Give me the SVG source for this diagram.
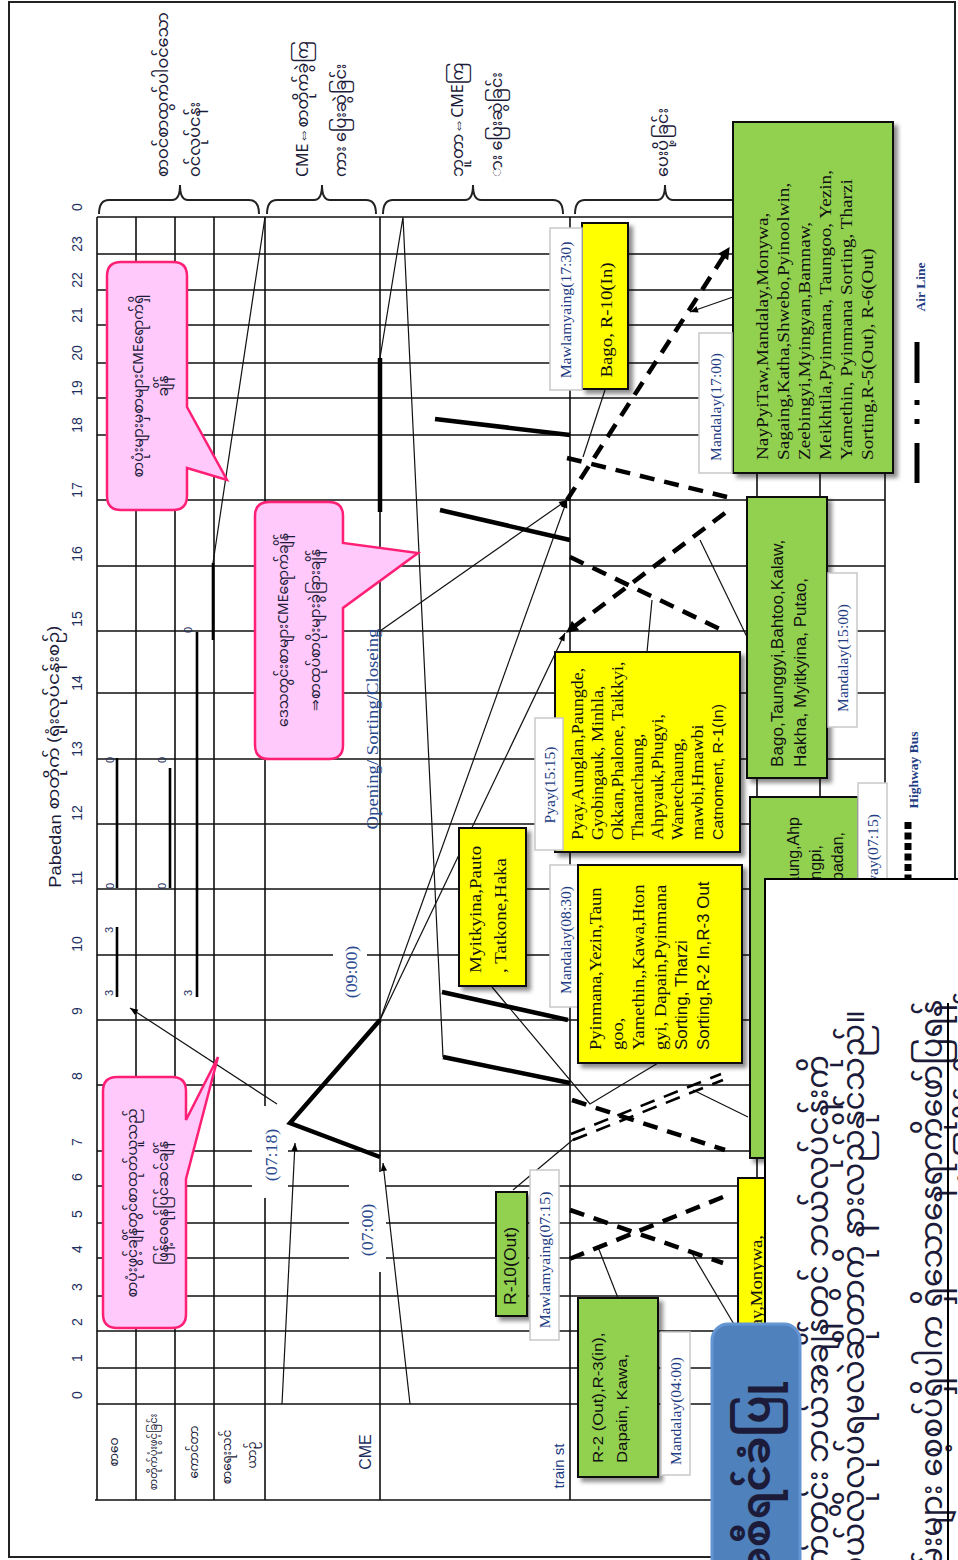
<svg xmlns="http://www.w3.org/2000/svg" width="958" height="1560" viewBox="0 0 958 1560">
<defs>
<style>
.grid{stroke:#111;stroke-width:1.6;fill:none}
.thin{stroke:#111;stroke-width:1.2;fill:none}
.thick{stroke:#000;stroke-width:4.5;fill:none}
.dash{stroke:#000;stroke-width:4.5;fill:none;stroke-dasharray:15 10}
.bar{stroke:#000;stroke-width:2.6;fill:none}
.yb{fill:#ffff00;stroke:#111;stroke-width:2}
.gb{fill:#92d050;stroke:#111;stroke-width:2}
.wl{fill:#fff;stroke:#c9c9c9;stroke-width:1.5}
.call{fill:#ffc9fb;stroke:#ff1f75;stroke-width:2.5}
.hr{font-family:"Liberation Sans",Arial,sans-serif;font-size:14px;fill:#1e2f5e}
.ser{font-family:"Liberation Serif","Times New Roman",serif}
.san{font-family:"Liberation Sans",Arial,sans-serif}
.mm{font-family:"Noto Sans Myanmar","Noto Serif Myanmar","Padauk","Myanmar Text","Noto Sans",sans-serif;fill:#1c1c3a}
.lbl{font-family:"Liberation Serif","Times New Roman",serif;font-size:14px;fill:#223b82}
.blue{fill:#2a4a8e}
.bt{font-size:17px;fill:#111}
.dg{font-family:"Liberation Sans",Arial,sans-serif;font-size:11px;fill:#1e2f5e}
</style>
<filter id="sh" x="-10%" y="-10%" width="130%" height="130%"><feDropShadow dx="4" dy="4" stdDeviation="2" flood-color="#000" flood-opacity="0.45"/></filter>
<marker id="ar" viewBox="0 0 10 10" refX="10" refY="5" markerWidth="10" markerHeight="8" markerUnits="userSpaceOnUse" orient="auto"><path d="M0,1 L10,5 L0,9 z" fill="#000"/></marker>
<marker id="arB" viewBox="0 0 10 10" refX="9" refY="5" markerWidth="14" markerHeight="12" markerUnits="userSpaceOnUse" orient="auto"><path d="M0,0 L10,5 L0,10 z" fill="#000"/></marker>
</defs>
<rect width="958" height="1560" fill="#fff"/>
<rect x="9" y="2" width="946" height="1555" fill="none" stroke="#222" stroke-width="2"/>

<g id="grid">
<path class="grid" d="M97,217H885 M97,254H885 M97,290H885 M97,325H885 M97,363H885 M97,398H885 M97,435H885 M97,500H885 M97,566H885 M97,631H885 M97,693H885 M97,759H885 M97,824H885 M97,889H885 M97,955H885 M97,1020H885 M97,1085H885 M97,1151H885 M97,1186H885 M97,1223H885 M97,1258H885 M97,1296H885 M97,1331H885 M97,1368H885 M97,1404H885 M95,1500H885"/>
<path class="grid" d="M97,217V1500 M136,217V1500 M175,217V1500 M214,217V1500 M265,217V1500 M380,217V1500 M570,217V1500 M757,217V1404 M820,217V1404 M885,217V1404"/>
<rect x="252" y="1106" width="36" height="92" fill="#fff"/>
<rect x="349" y="1172" width="37" height="100" fill="#fff"/>
<rect x="333" y="932" width="34" height="78" fill="#fff"/>
</g>

<g id="axis">
<text class="hr" text-anchor="middle" dominant-baseline="central" transform="translate(77,207) rotate(-90)">0</text>
<text class="hr" text-anchor="middle" dominant-baseline="central" transform="translate(77,244) rotate(-90)">23</text>
<text class="hr" text-anchor="middle" dominant-baseline="central" transform="translate(77,280) rotate(-90)">22</text>
<text class="hr" text-anchor="middle" dominant-baseline="central" transform="translate(77,315) rotate(-90)">21</text>
<text class="hr" text-anchor="middle" dominant-baseline="central" transform="translate(77,353) rotate(-90)">20</text>
<text class="hr" text-anchor="middle" dominant-baseline="central" transform="translate(77,388) rotate(-90)">19</text>
<text class="hr" text-anchor="middle" dominant-baseline="central" transform="translate(77,425) rotate(-90)">18</text>
<text class="hr" text-anchor="middle" dominant-baseline="central" transform="translate(77,490) rotate(-90)">17</text>
<text class="hr" text-anchor="middle" dominant-baseline="central" transform="translate(77,554) rotate(-90)">16</text>
<text class="hr" text-anchor="middle" dominant-baseline="central" transform="translate(77,619) rotate(-90)">15</text>
<text class="hr" text-anchor="middle" dominant-baseline="central" transform="translate(77,683) rotate(-90)">14</text>
<text class="hr" text-anchor="middle" dominant-baseline="central" transform="translate(77,749) rotate(-90)">13</text>
<text class="hr" text-anchor="middle" dominant-baseline="central" transform="translate(77,813) rotate(-90)">12</text>
<text class="hr" text-anchor="middle" dominant-baseline="central" transform="translate(77,878) rotate(-90)">11</text>
<text class="hr" text-anchor="middle" dominant-baseline="central" transform="translate(77,944) rotate(-90)">10</text>
<text class="hr" text-anchor="middle" dominant-baseline="central" transform="translate(77,1011) rotate(-90)">9</text>
<text class="hr" text-anchor="middle" dominant-baseline="central" transform="translate(77,1076) rotate(-90)">8</text>
<text class="hr" text-anchor="middle" dominant-baseline="central" transform="translate(77,1142) rotate(-90)">7</text>
<text class="hr" text-anchor="middle" dominant-baseline="central" transform="translate(77,1177) rotate(-90)">6</text>
<text class="hr" text-anchor="middle" dominant-baseline="central" transform="translate(77,1214) rotate(-90)">5</text>
<text class="hr" text-anchor="middle" dominant-baseline="central" transform="translate(77,1249) rotate(-90)">4</text>
<text class="hr" text-anchor="middle" dominant-baseline="central" transform="translate(77,1287) rotate(-90)">3</text>
<text class="hr" text-anchor="middle" dominant-baseline="central" transform="translate(77,1322) rotate(-90)">2</text>
<text class="hr" text-anchor="middle" dominant-baseline="central" transform="translate(77,1358) rotate(-90)">1</text>
<text class="hr" text-anchor="middle" dominant-baseline="central" transform="translate(77,1395) rotate(-90)">0</text>
<text class="mm" font-size="16" fill="#1e2f5e" text-anchor="middle" dominant-baseline="central" transform="translate(55,757) rotate(-90) scale(1.15,1)"><tspan class="san">Pabedan</tspan> စာတိုက် (ရုံးလုပ်ငန်းစဉ်)</text>
</g>

<g id="braces" fill="none" stroke="#222" stroke-width="2">
<path d="M99,214 Q99,200 109,200 H172 Q180,200 180,185 Q180,200 188,200 H249 Q259,200 259,214"/>
<path d="M267,214 Q267,200 277,200 H314 Q322,200 322,185 Q322,200 330,200 H366 Q376,200 376,214"/>
<path d="M383,214 Q383,200 393,200 H465 Q473,200 473,185 Q473,200 481,200 H553 Q563,200 563,214"/>
<path d="M575,214 Q575,200 585,200 H657 Q665,200 665,185 Q665,200 673,200 H875 Q885,200 885,214"/>
</g>

<g id="group-labels" class="mm" font-size="16">
<text transform="translate(0,177) rotate(-90)"><tspan x="0" y="168">စာဝင်စာထွက်ပါဝင်သော</tspan><tspan x="0" y="200">ဝင်လုပ်ငန်း</tspan></text>
<text transform="translate(0,177) rotate(-90)"><tspan x="0" y="308">CME⇔စာတိုက်ခွဲကြ</tspan><tspan x="0" y="346">ကား ပြေးဆွဲခြင်း</tspan></text>
<text transform="translate(0,177) rotate(-90)"><tspan x="0" y="463">ဘူတာ⇔CMEကြ</tspan><tspan x="0" y="502">ား ပြေးဆွဲခြင်း</tspan></text>
<text transform="translate(0,177) rotate(-90)"><tspan x="0" y="668">ပေးပို့ခြင်း</tspan></text>
</g>

<g id="column-labels" class="mm">
<text font-size="12" text-anchor="middle" dominant-baseline="central" transform="translate(115,1452) rotate(-90)">စာဝေ</text>
<text font-size="10" text-anchor="middle" dominant-baseline="central" transform="translate(155,1452) rotate(-90)">စာတိုက်ပုံးဖွင့်ခြင်း</text>
<text font-size="12" text-anchor="middle" dominant-baseline="central" transform="translate(195,1452) rotate(-90)">ကောင်တာ</text>
<text font-size="12" text-anchor="middle" dominant-baseline="central" transform="translate(228,1457) rotate(-90)">စာရေးသင်</text>
<text font-size="12" text-anchor="middle" dominant-baseline="central" transform="translate(253,1455) rotate(-90)">ယာဉ်</text>
<text class="san" font-size="16" fill="#1e2f5e" text-anchor="middle" dominant-baseline="central" transform="translate(365,1452) rotate(-90)">CME</text>
<text class="san" font-size="15" fill="#223b82" text-anchor="middle" dominant-baseline="central" transform="translate(558,1466) rotate(-90)">train  st</text>
</g>

<g id="time-labels">
<text class="ser blue" font-size="17" text-anchor="middle" dominant-baseline="central" transform="translate(271,1155) rotate(-90) scale(1.05,1)">(07:18)</text>
<text class="ser blue" font-size="17" text-anchor="middle" dominant-baseline="central" transform="translate(367,1230) rotate(-90) scale(1.05,1)">(07:00)</text>
<text class="ser blue" font-size="17" text-anchor="middle" dominant-baseline="central" transform="translate(351,972) rotate(-90) scale(1.05,1)">(09:00)</text>
<text class="ser blue" font-size="17" text-anchor="middle" dominant-baseline="central" transform="translate(372,729) rotate(-90) scale(1.1,1)">Opening/ Sorting/Closeing</text>
</g>

<g id="column-bars">
<path class="bar" d="M117,927V997 M117,758V888 M170,768V888 M197,632V997 M213,563V640"/>
<text class="dg" text-anchor="middle" dominant-baseline="central" transform="translate(109,930) rotate(-90)">3</text>
<text class="dg" text-anchor="middle" dominant-baseline="central" transform="translate(109,993) rotate(-90)">3</text>
<text class="dg" text-anchor="middle" dominant-baseline="central" transform="translate(110,760) rotate(-90)">0</text>
<text class="dg" text-anchor="middle" dominant-baseline="central" transform="translate(110,886) rotate(-90)">0</text>
<text class="dg" text-anchor="middle" dominant-baseline="central" transform="translate(162,760) rotate(-90)">0</text>
<text class="dg" text-anchor="middle" dominant-baseline="central" transform="translate(162,886) rotate(-90)">0</text>
<text class="dg" text-anchor="middle" dominant-baseline="central" transform="translate(188,630) rotate(-90)">0</text>
<text class="dg" text-anchor="middle" dominant-baseline="central" transform="translate(188,993) rotate(-90)">3</text>
</g>

<g id="connectors">
<path class="thin" d="M265,217 L213,563"/>
<path class="thin" d="M277,1104 L130,1008" marker-end="url(#ar)"/>
<path class="thin" d="M282,1404 L295,1143" marker-end="url(#ar)"/>
<path class="thin" d="M410,1404 L383,1163" marker-end="url(#ar)"/>
<path class="thin" d="M380,358 L403,217 L443,1057"/>
<path class="thin" d="M380,631 L567,500" marker-end="url(#ar)"/>
<path class="thin" d="M380,1020 L567,500" marker-end="url(#ar)"/>
<path class="thin" d="M380,1020 L565,633" marker-end="url(#ar)"/>
<path class="thin" d="M605,390 L583,457"/>
<path class="thin" d="M733,297 L690,312" marker-end="url(#ar)"/>
<path class="thin" d="M700,540 L747,637"/>
<path class="thin" d="M652,600 L647,652"/>
<path class="thin" d="M492,987 L590,1104 L658,1063"/>
<path class="thin" d="M693,1090 L748,1117"/>
<path class="thin" d="M513,1190 L575,1138"/>
<path class="thin" d="M598,1247 L618,1298"/>
<path class="thin" d="M690,1250 L735,1326"/>
<path class="thick" d="M380,358 V512"/>
<path class="thick" d="M380,1020 L290,1123 L380,1157"/>
<path class="thick" d="M435,419 L570,435"/>
<path class="thick" d="M440,510 L570,540"/>
<path class="thick" d="M442,992 L568,1020"/>
<path class="thick" d="M443,1057 L570,1083"/>
<path class="dash" d="M567,500 L729,248" marker-end="url(#arB)"/>
<path class="dash" d="M567,458 L727,497"/>
<path class="dash" d="M725,513 L567,632" marker-end="url(#arB)"/>
<path class="dash" d="M570,557 L722,630"/>
<path class="dash" d="M572,1100 L725,1150"/>
<path class="dash" d="M570,1210 L723,1263"/>
<path class="dash" d="M723,1197 L567,1260"/>
<path d="M571,1134 L721,1074 M573,1140 L723,1080" stroke="#000" stroke-width="2.6" fill="none" stroke-dasharray="15 10"/>
</g>

<g id="callout-1">
<path class="call" d="M121,262 H173 Q187,262 187,276 V407 L227,480 L187,468 V496 Q187,510 173,510 H121 Q107,510 107,496 V276 Q107,262 121,262 Z"/>
<text class="mm" font-size="14" text-anchor="middle" transform="translate(0,386) rotate(-90)"><tspan x="0" y="143">စာပုံးများမှစာများCMEရောက်ရှိ</tspan><tspan x="0" y="168">ချိန်</tspan></text>
</g>
<g id="callout-2">
<path class="call" d="M269,502 H329 Q343,502 343,516 V543 L418,553 L343,608 V745 Q343,759 329,759 H269 Q255,759 255,745 V516 Q255,502 269,502 Z"/>
<text class="mm" font-size="14" text-anchor="middle" transform="translate(0,630) rotate(-90)"><tspan x="0" y="288">ဒေသတွင်းစာများCMEရောက်ချိန်</tspan><tspan x="0" y="320">⇒စာထုပ်စာပိုးများခွဲခြားချိန်</tspan></text>
</g>
<g id="callout-3">
<path class="call" d="M117,1077 H172 Q186,1077 186,1091 V1120 L218,1057 L186,1179 V1314 Q186,1328 172,1328 H117 Q103,1328 103,1314 V1091 Q103,1077 117,1077 Z"/>
<text class="mm" font-size="14" text-anchor="middle" transform="translate(0,1203) rotate(-90)"><tspan x="0" y="137">စာပုံးဖွင့်ချိန်တွင်စာထုတ်ယူသည်</tspan><tspan x="0" y="168">ဖြန့်ဝေရန်ပြင်ဆင်ချိန်</tspan></text>
</g>

<g id="node-bago-r10in">
<rect class="yb" x="582" y="223" width="46" height="166" filter="url(#sh)"/>
<text class="ser bt" text-anchor="middle" dominant-baseline="central" transform="translate(606,320) rotate(-90) scale(1.11,1)">Bago, R-10(In)</text>
</g>
<g id="label-mawlamyaing-1730">
<rect class="wl" x="550" y="228" width="32" height="162"/>
<text class="lbl" text-anchor="middle" dominant-baseline="central" transform="translate(566,310) rotate(-90) scale(1.12,1)">Mawlamyaing(17:30)</text>
</g>
<g id="node-naypyitaw">
<rect class="gb" x="733" y="122" width="160" height="351" filter="url(#sh)"/>
<text class="ser bt" font-size="17.5" transform="translate(0,460) rotate(-90) scale(1.13,1)"><tspan x="0" y="768">NayPyiTaw,Mandalay,Monywa,</tspan><tspan x="0" y="789">Sagaing,Katha,Shwebo,Pyinoolwin,</tspan><tspan x="0" y="810">Zeebingyi,Myingyan,Bamnaw,</tspan><tspan x="0" y="831">Meikhtila,Pyinmana, Taungoo, Yezin,</tspan><tspan x="0" y="852">Yamethin, Pyinmana Sorting, Tharzi</tspan><tspan x="0" y="873">Sorting,R-5(Out),  R-6(Out)</tspan></text>
</g>
<g id="label-mandalay-1700">
<rect class="wl" x="699" y="333" width="33" height="140"/>
<text class="lbl" text-anchor="middle" dominant-baseline="central" transform="translate(716,407) rotate(-90) scale(1.11,1)">Mandalay(17:00)</text>
</g>
<g id="node-bago-taunggyi">
<rect class="gb" x="747" y="497" width="80" height="281" filter="url(#sh)"/>
<text class="san" font-size="16" fill="#111" transform="translate(0,767) rotate(-90) scale(1.07,1)"><tspan x="0" y="783">Bago,Taunggyi,Bahtoo,Kalaw,</tspan><tspan x="0" y="806">Hakha, Myitkyina, Putao,</tspan></text>
</g>
<g id="label-mandalay-1500">
<rect class="wl" x="828" y="573" width="29" height="154"/>
<text class="lbl" text-anchor="middle" dominant-baseline="central" transform="translate(843,658) rotate(-90) scale(1.11,1)">Mandalay(15:00)</text>
</g>
<g id="node-pyay">
<rect class="yb" x="555" y="652" width="185" height="200" filter="url(#sh)"/>
<text class="ser" font-size="17" fill="#111" transform="translate(0,840) rotate(-90) scale(1.06,1)"><tspan x="0" y="583">Pyay,Aunglan,Paungde,</tspan><tspan x="0" y="603">Gyobingauk, Minhla,</tspan><tspan x="0" y="623">Okkan,Phalone, Taikkyi,</tspan><tspan x="0" y="643">Thanatchaung,</tspan><tspan x="0" y="663">Ahpyauk,Phugyi,</tspan><tspan x="0" y="683">Wanetchaung,</tspan><tspan x="0" y="703">mawbi,Hmawbi</tspan><tspan x="0" y="723" class="san" font-size="15">Catnoment, R-1(In)</tspan></text>
</g>
<g id="label-pyay-1515">
<rect class="wl" x="535" y="718" width="28" height="132"/>
<text class="lbl" text-anchor="middle" dominant-baseline="central" transform="translate(550,785) rotate(-90) scale(1.11,1)">Pyay(15:15)</text>
</g>
<g id="node-myitkyina">
<rect class="yb" x="459" y="828" width="67" height="158" filter="url(#sh)"/>
<text class="ser" font-size="17" fill="#111" transform="translate(0,973) rotate(-90) scale(1.12,1)"><tspan x="0" y="481">Myitkyina,Pauto</tspan><tspan x="0" y="506">, Tatkone,Haka</tspan></text>
</g>
<g id="label-mandalay-0830">
<rect class="wl" x="550" y="865" width="30" height="142"/>
<text class="lbl" text-anchor="middle" dominant-baseline="central" transform="translate(566,940) rotate(-90) scale(1.11,1)">Mandalay(08:30)</text>
</g>
<g id="node-pyinmana">
<rect class="yb" x="578" y="865" width="164" height="198" filter="url(#sh)"/>
<text class="ser" font-size="17.5" fill="#111" transform="translate(0,1050) rotate(-90) scale(1.06,1)"><tspan x="0" y="601">Pyinmana,Yezin,Taun</tspan><tspan x="0" y="622.6">goo,</tspan><tspan x="0" y="644.2">Yamethin,,Kawa,Hton</tspan><tspan x="0" y="665.8">gyi, Dapain,Pyinmana</tspan><tspan x="0" y="687.4" class="san" font-size="16">Sorting, Tharzi</tspan><tspan x="0" y="709" class="san" font-size="16">Sorting,R-2 In,R-3 Out</tspan></text>
</g>
<g id="node-ahp">
<rect class="gb" x="750" y="797" width="108" height="361" filter="url(#sh)"/>
<text class="san" font-size="16" fill="#111" text-anchor="end" transform="translate(0,817) rotate(-90)"><tspan x="0" y="799">Magway,Yenangyaung,Ahp</tspan></text>
<text class="san" font-size="16" fill="#111" text-anchor="end" transform="translate(0,845) rotate(-90)"><tspan x="0" y="821">Minbu,Nyaungpi,</tspan></text>
<text class="san" font-size="16" fill="#111" text-anchor="end" transform="translate(0,832) rotate(-90)"><tspan x="0" y="843">Kyaukpadan,</tspan></text>
</g>
<g id="label-pyay-0715">
<rect class="wl" x="858" y="783" width="29" height="150"/>
<text class="lbl" text-anchor="end" dominant-baseline="central" transform="translate(873,814) rotate(-90) scale(1.12,1)">Pyay(07:15)</text>
</g>
<g id="node-r10out">
<rect class="gb" x="496" y="1192" width="31" height="124" filter="url(#sh)"/>
<text class="san" font-size="16" fill="#111" text-anchor="middle" dominant-baseline="central" transform="translate(511,1266) rotate(-90) scale(1.1,1)">R-10(Out)</text>
</g>
<g id="label-mawlamyaing-0715">
<rect class="wl" x="530" y="1170" width="29" height="170"/>
<text class="lbl" text-anchor="middle" dominant-baseline="central" transform="translate(545,1260) rotate(-90) scale(1.12,1)">Mawlamyaing(07:15)</text>
</g>
<g id="node-r2">
<rect class="gb" x="578" y="1298" width="80" height="179" filter="url(#sh)"/>
<text class="san" font-size="15" fill="#111" transform="translate(0,1463) rotate(-90) scale(1.12,1)"><tspan x="0" y="603">R-2 (Out),R-3(in),</tspan><tspan x="0" y="627">Dapain, Kawa,</tspan></text>
</g>
<g id="label-mandalay-0400">
<rect class="wl" x="661" y="1332" width="29" height="143"/>
<text class="lbl" text-anchor="middle" dominant-baseline="central" transform="translate(676,1411) rotate(-90) scale(1.11,1)">Mandalay(04:00)</text>
</g>
<g id="node-monywa">
<rect class="yb" x="738" y="1178" width="60" height="260" filter="url(#sh)"/>
<text class="ser bt" text-anchor="end" transform="translate(0,1235) rotate(-90) scale(1.1,1)"><tspan x="0" y="762">Mandalay,Monywa,</tspan></text>
</g>

<g id="legend">
<path d="M917,483V443 M917,424V419 M917,405V400 M917,383V342" stroke="#000" stroke-width="5" fill="none"/>
<text class="ser" font-size="13.5" font-weight="bold" fill="#223b82" text-anchor="middle" dominant-baseline="central" transform="translate(920,287) rotate(-90)">Air Line</text>
<path d="M908,822V900" stroke="#000" stroke-width="7" stroke-dasharray="7 3.5" fill="none"/>
<text class="ser" font-size="13.5" font-weight="bold" fill="#223b82" text-anchor="middle" dominant-baseline="central" transform="translate(913,770) rotate(-90)">Highway Bus</text>
</g>

<g id="overlay-note">
<rect x="765" y="879" width="220" height="720" fill="#fff" stroke="#000" stroke-width="2"/>
<text class="mm" font-size="30" fill="#000" text-anchor="end" transform="translate(0,1055) rotate(-90)"><tspan x="0" y="828">စာတိုက်တွင်း ဘယ်အချိန်တွင် ဘယ်လုပ်ငန်းကို</tspan></text>
<text class="mm" font-size="30" fill="#000" text-anchor="end" transform="translate(0,1010) rotate(-90)"><tspan x="0" y="864">ဘယ်လိုလုပ်ရမလဲဆိုတာကို နားလည်နိုင်သည်။</tspan></text>
<text class="mm" font-size="30" fill="#000" text-anchor="end" transform="translate(0,1000) rotate(-90)"><tspan x="0" y="942">ဝန်ထမ်းများ စေ့စပ်ရှိပါက ရှိသောနေရာကိုဖော်ပြရန်</tspan></text>
<text class="mm" font-size="30" fill="#000" text-anchor="end" transform="translate(0,975) rotate(-90)"><tspan x="0" y="984">အသုံးပြုနိုင်ပါသည်။</tspan></text>
<path d="M948,1003V1560" stroke="#000" stroke-width="2"/>
</g>

<g id="button">
<rect x="712" y="1324" width="88" height="260" rx="16" fill="#4f81bd" stroke="#6596d4" stroke-width="3"/>
<text class="mm" font-size="40" font-weight="bold" fill="#fff" text-anchor="end" transform="translate(0,1382) rotate(-90)"><tspan x="0" y="770">အစီရင်ခံပြု</tspan></text>
</g>
</svg>
